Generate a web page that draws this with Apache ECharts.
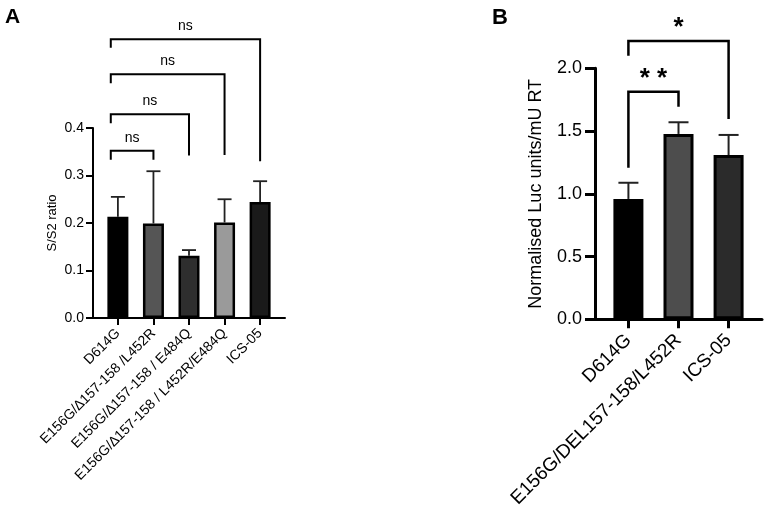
<!DOCTYPE html>
<html><head><meta charset="utf-8">
<script src="https://cdn.jsdelivr.net/npm/echarts@6/dist/echarts.min.js"></script>
<style>html,body{margin:0;padding:0;background:#fff}#c{width:764px;height:514px}</style>
</head><body><div id="c"></div>
<script>
// ---- Panel A data ----
const catsA = ['D614G', 'E156G/\u2206157-158 /L452R', 'E156G/\u2206157-158 / E484Q', 'E156G/\u2206157-158 / L452R/E484Q', 'ICS-05'];
const meanA = [0.213, 0.199, 0.131, 0.201, 0.244];
const errTopA = [0.255, 0.309, 0.143, 0.250, 0.288];
const colorsA = ['#000000', '#555555', '#2e2e2e', '#9a9a9a', '#1a1a1a'];
const ticksA = [0, 0.1, 0.2, 0.3, 0.4];
// [fromIndex, toIndex, bracketY, leftFootY, rightFootY, label]
const bracketsA = [
  [0, 1, 0.352, 0.333, 0.333, 'ns'],
  [0, 2, 0.429, 0.410, 0.342, 'ns'],
  [0, 3, 0.513, 0.494, 0.343, 'ns'],
  [0, 4, 0.587, 0.569, 0.330, 'ns']
];
// ---- Panel B data ----
const catsB = ['D614G', 'E156G/DEL157-158/L452R', 'ICS-05'];
const meanB = [0.959, 1.477, 1.309];
const errTopB = [1.088, 1.570, 1.469];
const colorsB = ['#000000', '#4d4d4d', '#2b2b2b'];
const ticksB = [0, 0.5, 1.0, 1.5, 2.0];
const bracketsB = [
  [0, 1, 1.814, 1.208, 1.694, '* *'],
  [0, 2, 2.218, 2.100, 1.596, '*']
];

const FONT = 'Liberation Sans, Arial, Helvetica, sans-serif';

function errSeries(idx, means, tops, lw, cap, color) {
  return {
    type: 'custom', xAxisIndex: idx, yAxisIndex: idx, clip: false, silent: true, z: 4,
    data: means.map((m, i) => [i, m, tops[i]]),
    renderItem(params, api) {
      const p0 = api.coord([api.value(0), api.value(1)]);
      const p1 = api.coord([api.value(0), api.value(2)]);
      return {
        type: 'group', children: [
          { type: 'line', shape: { x1: p0[0], y1: p0[1], x2: p1[0], y2: p1[1] }, style: { stroke: color, lineWidth: lw } },
          { type: 'line', shape: { x1: p1[0] - cap / 2, y1: p1[1], x2: p1[0] + cap / 2, y2: p1[1] }, style: { stroke: color, lineWidth: lw } }
        ]
      };
    }
  };
}

function bracketSeries(idx, brackets, lw, leftOff, font, labelGap) {
  return {
    type: 'custom', xAxisIndex: idx, yAxisIndex: idx, clip: false, silent: true, z: 5,
    data: brackets.map(b => [b[0], b[2], b[1], b[3], b[4]]),
    renderItem(params, api) {
      const b = brackets[params.dataIndex];
      const pL = api.coord([b[0] + leftOff, b[2]]);
      const pR = api.coord([b[1], b[2]]);
      const yLf = api.coord([b[0], b[3]])[1];
      const yRf = api.coord([b[1], b[4]])[1];
      return {
        type: 'group', children: [
          { type: 'polyline', shape: { points: [[pL[0], yLf], [pL[0], pL[1]], [pR[0], pR[1]], [pR[0], yRf]] },
            style: { stroke: '#000', lineWidth: lw, fill: null } },
          { type: 'text', style: { text: b[5], x: (pL[0] + pR[0]) / 2, y: pL[1] - labelGap, align: 'center', verticalAlign: 'middle', font: font, fill: '#000' } }
        ]
      };
    }
  };
}

function barSeries(idx, means, colors, width, bw) {
  return {
    type: 'bar', xAxisIndex: idx, yAxisIndex: idx, barWidth: width, silent: true, z: 2,
    data: means.map((v, i) => ({ value: [i, v], itemStyle: { color: colors[i] } })),
    itemStyle: { borderColor: '#000', borderWidth: bw }
  };
}

const chart = echarts.init(document.getElementById('c'), null, { renderer: 'canvas' });
chart.setOption({
  animation: false,
  backgroundColor: '#fff',
  title: [
    { text: 'A', left: 0, top: 2, textStyle: { fontFamily: FONT, fontSize: 21, fontWeight: 'bold', color: '#000' } },
    { text: 'B', left: 487, top: 2, textStyle: { fontFamily: FONT, fontSize: 22, fontWeight: 'bold', color: '#000' } }
  ],
  grid: [
    { left: 93, top: 128, width: 192, height: 190 },
    { left: 595, top: 68.3, width: 167, height: 251 }
  ],
  xAxis: [
    {
      gridIndex: 0, type: 'value', min: -0.7, max: 4.7,
      splitLine: { show: false },
      axisLine: { show: true, onZero: false, lineStyle: { color: '#000', width: 2 } },
      axisTick: { show: true, customValues: [0, 1, 2, 3, 4], length: 7, lineStyle: { color: '#000', width: 2 } },
      axisLabel: { customValues: [0, 1, 2, 3, 4], formatter: v => catsA[Math.round(v)], rotate: 45, margin: 13,
        fontFamily: FONT, fontSize: 14, color: '#000' }
    },
    {
      gridIndex: 1, type: 'value', min: -0.667, max: 2.667,
      splitLine: { show: false },
      axisLine: { show: true, onZero: false, lineStyle: { color: '#000', width: 3 } },
      axisTick: { show: true, customValues: [0, 1, 2], length: 9, lineStyle: { color: '#000', width: 3 } },
      axisLabel: { customValues: [0, 1, 2], formatter: v => catsB[Math.round(v)], rotate: 45, margin: 18,
        fontFamily: FONT, fontSize: 19, color: '#000' }
    }
  ],
  yAxis: [
    {
      gridIndex: 0, type: 'value', min: 0, max: 0.4, interval: 0.1,
      name: 'S/S2 ratio', nameLocation: 'middle', nameGap: 34,
      nameTextStyle: { fontFamily: FONT, fontSize: 13, color: '#000' },
      splitLine: { show: false },
      axisLine: { show: true, onZero: false, lineStyle: { color: '#000', width: 2 } },
      axisTick: { show: true, length: 7, lineStyle: { color: '#000', width: 2 } },
      axisLabel: { formatter: v => v.toFixed(1), margin: 9, fontFamily: FONT, fontSize: 14, color: '#000' }
    },
    {
      gridIndex: 1, type: 'value', min: 0, max: 2.0, interval: 0.5,
      name: 'Normalised Luc units/mU RT', nameLocation: 'middle', nameGap: 50,
      nameTextStyle: { fontFamily: FONT, fontSize: 18, color: '#000' },
      splitLine: { show: false },
      axisLine: { show: true, onZero: false, lineStyle: { color: '#000', width: 3 } },
      axisTick: { show: true, length: 10, lineStyle: { color: '#000', width: 3 } },
      axisLabel: { formatter: v => v.toFixed(1), margin: 13, fontFamily: FONT, fontSize: 18, color: '#000' }
    }
  ],
  series: [
    barSeries(0, meanA, colorsA, 21, 2.5),
    errSeries(0, meanA, errTopA, 1.8, 14, '#222'),
    bracketSeries(0, bracketsA, 2, -0.2, '14px ' + FONT, 13),
    barSeries(1, meanB, colorsB, 30, 3),
    errSeries(1, meanB, errTopB, 2, 20, '#222'),
    bracketSeries(1, bracketsB, 2.5, 0, 'bold 26px ' + FONT, 13)
  ]
});
</script>
</body></html>
